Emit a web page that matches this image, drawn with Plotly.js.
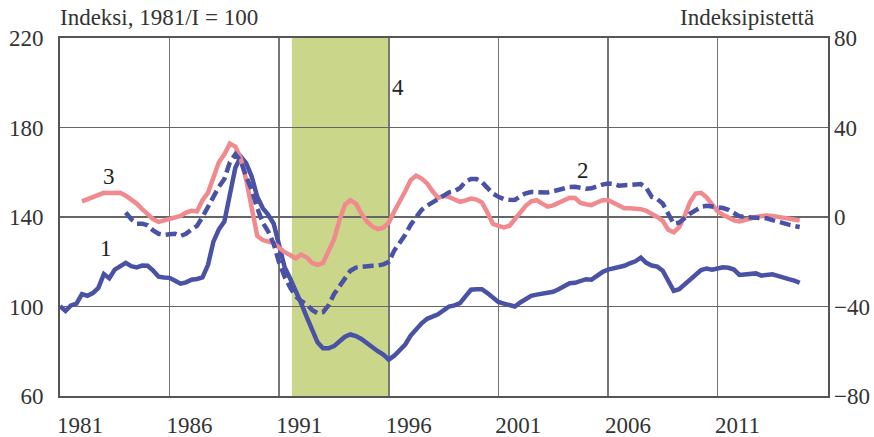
<!DOCTYPE html>
<html>
<head>
<meta charset="utf-8">
<script src="https://cdn.plot.ly/plotly-3.0.1.min.js"></script>
<style>html,body{margin:0;padding:0;background:#fff;}#chart{width:874px;height:437px;}</style>
</head>
<body>
<div id="chart"></div>
<script>
// Quarterly data, first quarter of series 1 = 1981/I
const firstYear = 1981;
const tickYears = [1981, 1986, 1991, 1996, 2001, 2006, 2011];
const tickLabels = ["1981", "1986", "1991", "1996", "2001", "2006", "2011"];

// 1: index, 1981/I = 100 (left axis), from 1981/I
const series1Start = 0;
const series1 = [
 100.2, 98, 100.5, 101.3, 105.5, 104.8, 106, 108.3, 114.5, 112.6,
 116.5, 117.8, 119.5, 118, 117.5, 118.3, 118.2, 116, 113.3, 113,
 112.8, 111.5, 110.2, 110.8, 112, 112.3, 113, 118.5, 129, 134.5,
 138, 150, 162, 167, 164, 158, 149, 144, 141, 137,
 127, 117.5, 112.5, 107.5, 101.5, 95.5, 89.5, 84, 81.3, 81.3,
 82.3, 84.5, 86.5, 87.5, 86.8, 85.5, 83.5, 81.5, 80, 78.5,
 76.3, 78, 80.5, 83, 87, 90, 92.5, 94.5, 95.4, 96.5,
 98.3, 100, 100.5, 101.5, 104.5, 107.5, 107.7, 107.7, 106, 104,
 102, 101.3, 100.6, 100, 101.8, 103.6, 104.8, 105.3, 105.7, 106,
 106.6, 107.7, 109.2, 110.4, 110.6, 111.2, 112.2, 112, 113.8, 115.4,
 116.5, 117, 117.5, 118.2, 119.3, 120.2, 121.8, 119.5, 118.3, 117.8,
 116, 111, 107, 107.7, 110, 112.3, 114.2, 116.3, 117, 116.5,
 117, 117.5, 117.3, 116.5, 114.1, 114.3, 114.8, 114.8, 113.8, 114.2,
 114.4, 113.7, 112.8, 112.2, 111.6, 110.6
];

// 2: index points (right axis), from 1984/I
const series2Start = 12;
const series2 = [
 2, -1, -3, -3, -3.7, -6, -7.5, -8, -7.7, -7.5,
 -8.5, -7.5, -5.5, -4, 0, 4.5, 10, 13.5, 17, 24.5,
 28, 25, 18, 12, 4, -2.5, -6.5, -12, -20.5, -26.7,
 -31.5, -35.5, -37.5, -39, -41.5, -43, -42.5, -39.5, -34.5, -30.7,
 -27, -24, -22.6, -22.2, -21.9, -21.8, -21.7, -21.2, -20, -15,
 -11.5, -8, -3.5, 0, 3.2, 5, 6.6, 8, 10, 11,
 11.5, 13, 15.8, 17, 17, 15.6, 13, 10.5, 9, 8,
 7.7, 7.6, 9.3, 10.6, 11.2, 11.1, 11, 11, 11.5, 12.2,
 13, 13.4, 13.5, 13, 12.6, 12.8, 13.8, 14.5, 15, 14.8,
 14, 14, 14.3, 14.5, 14.7, 13, 9, 8, 6, 1,
 -3, -2.5, -0.2, 1.5, 3, 4.6, 5, 4.8, 4.3, 4,
 3.2, 2, 0.3, 0, -0.1, -0.2, -0.4, -0.6, -1.4, -2.2,
 -2.8, -3.4, -4, -4.5
];

// 3: index points (right axis), from 1982/I
const series3Start = 4;
const series3 = [
 7, 8, 8.5, 10, 10.8, 10.7, 10.8, 10.8, 9.5, 8,
 6, 3.5, 1, -1, -2.2, -1.5, -0.8, -0.6, 0.5, 2,
 2.8, 2.5, 7.5, 10.8, 17.5, 24.5, 28, 32.8, 31.5, 26,
 16.5, 4, -8.5, -10.3, -11, -11.6, -13.7, -15.7, -17, -18.5,
 -16.8, -18, -20.5, -21.4, -20.5, -15.5, -10, -1.5, 5.5, 7.5,
 6, 1.5, -2, -4.2, -5.4, -4.8, -2.5, 2.5, 6.8, 11.5,
 16.5, 18.5, 17.2, 15, 11.5, 8.5, 9.5, 9, 7.8, 6.8,
 7.4, 8.2, 7.8, 6.5, 2, -3, -4, -4.7, -4, -1.2,
 2.2, 5, 7, 7.5, 6, 4.6, 5.2, 6.5, 7.4, 8.6,
 8.5, 6.3, 5.7, 5.3, 6.5, 7.5, 7.6, 6.2, 5, 3.9,
 3.9, 3.8, 3.5, 2.8, 1.5, 0, -1.7, -5.7, -6.8, -4.5,
 0.5, 6.8, 10.5, 10.8, 8.8, 5.5, 2.5, 1, -0.4, -1.5,
 -2, -1.6, -0.7, 0, 0.4, 0.7, 0.5, 0, -0.5, -1,
 -1.5, -1.6
];

// 4: shaded period
const period4 = [1991.58, 1996.0];

function quarterX(start, n) {
  const xs = [];
  for (let i = 0; i < n; i++) xs.push(firstYear + (start + i) / 4);
  return xs;
}

const blue = '#4a52a5';
const pink = '#f08a8f';
const font = 'Liberation Serif, Times New Roman, serif';
const txt = '#333333';
const fs = 23;

const traces = [
  {x: quarterX(series3Start, series3.length), y: series3, yaxis: 'y2', type: 'scatter', mode: 'lines',
   line: {color: pink, width: 4.5}, hoverinfo: 'skip'},
  {x: quarterX(series2Start, series2.length), y: series2, yaxis: 'y2', type: 'scatter', mode: 'lines',
   line: {color: blue, width: 4.5, dash: '11px,5px'}, hoverinfo: 'skip'},
  {x: quarterX(series1Start, series1.length), y: series1, yaxis: 'y', type: 'scatter', mode: 'lines',
   line: {color: blue, width: 4.5}, hoverinfo: 'skip'}
];

const layout = {
  width: 874, height: 437,
  margin: {l: 60, r: 46, t: 38, b: 41},
  paper_bgcolor: '#fff', plot_bgcolor: '#fff',
  showlegend: false,
  font: {family: font, size: fs, color: txt},
  xaxis: {
    range: [1981, 2016.04], tickmode: 'array', tickvals: tickYears, ticktext: tickLabels,
    ticks: '', ticklabelshift: 20, ticklabelstandoff: 7,
    showgrid: true, gridcolor: '#777', gridwidth: 1.6, zeroline: false,
    showline: true, mirror: true, linecolor: '#555', linewidth: 2
  },
  yaxis: {
    range: [60, 220], tickmode: 'array', tickvals: [60, 100, 140, 180, 220],
    ticks: '', ticklabelstandoff: 10,
    showgrid: true, gridcolor: '#666', gridwidth: 1.6, zeroline: false,
    showline: true, mirror: true, linecolor: '#555', linewidth: 2
  },
  yaxis2: {
    range: [-80, 80], tickmode: 'array', tickvals: [-80, -40, 0, 40, 80],
    overlaying: 'y', side: 'right', ticks: '', ticklabelstandoff: 5,
    showgrid: false, zeroline: false, showline: false
  },
  shapes: [
    {type: 'rect', xref: 'x', yref: 'paper', x0: period4[0], x1: period4[1], y0: 0, y1: 1,
     fillcolor: '#cad68a', line: {width: 0}, layer: 'below'}
  ],
  annotations: [
    {xref: 'paper', yref: 'paper', x: -0.003, y: 1.056, xanchor: 'left', yanchor: 'middle',
     text: 'Indeksi, 1981/I = 100', showarrow: false, font: {family: font, size: fs, color: txt}},
    {xref: 'paper', yref: 'paper', x: 0.984, y: 1.056, xanchor: 'right', yanchor: 'middle',
     text: 'Indeksipistettä', showarrow: false, font: {family: font, size: fs, color: txt}},
    {xref: 'x', yref: 'y', x: 1983.25, y: 157.9, text: '3', showarrow: false, font: {family: font, size: fs, color: '#222'}},
    {xref: 'x', yref: 'y', x: 1983.11, y: 126.1, text: '1', showarrow: false, font: {family: font, size: fs, color: '#222'}},
    {xref: 'x', yref: 'y', x: 2004.84, y: 161, text: '2', showarrow: false, font: {family: font, size: fs, color: '#222'}},
    {xref: 'x', yref: 'y', x: 1996.4, y: 197.7, text: '4', showarrow: false, font: {family: font, size: fs, color: '#222'}}
  ]
};

Plotly.newPlot('chart', traces, layout, {staticPlot: true, displayModeBar: false});
</script>
</body>
</html>
